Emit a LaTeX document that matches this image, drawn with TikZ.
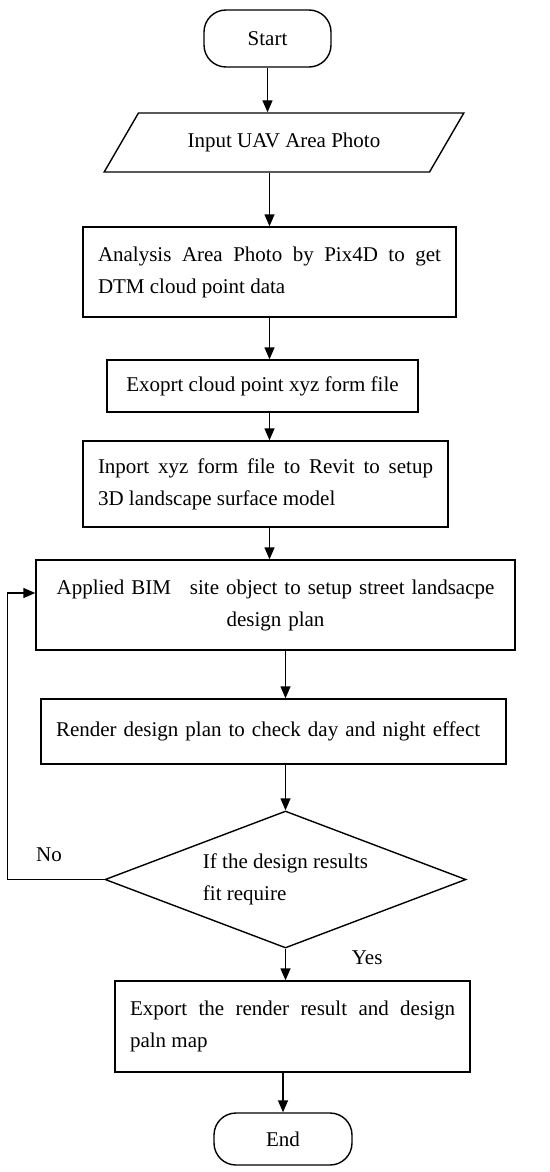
\documentclass[tikz,border=0pt]{standalone}
\usepackage{fontspec}
\setmainfont{Liberation Serif}
\usetikzlibrary{arrows.meta,shapes.geometric,positioning}

\begin{document}
\begin{tikzpicture}[x=.5pt,y=-.5pt,font=\fontsize{10.5}{16}\selectfont,
    line width=.7pt,
    term/.style={draw,rounded corners=11pt,inner sep=0pt},
    iobox/.style={draw,trapezium,trapezium left angle=40,trapezium right angle=140,
      trapezium stretches=true,minimum width=180pt,minimum height=29.5pt,inner sep=0pt},
    procbox/.style={draw,inner xsep=7.5pt,inner ysep=0pt,align=justify},
    decbox/.style={draw,diamond,aspect=2.6,inner sep=0pt,minimum width=180.5pt,
      minimum height=68.5pt,align=left},
    arr/.style={-{Triangle[length=6pt,width=5pt]}}]
  \useasboundingbox (0,0) rectangle (550,1172);
  \node[term,minimum width=63.5pt,minimum height=28.5pt] (start) at (267.5,38.5) {Start};
  \node[iobox] (input) at (284,142.5) {Input UAV Area Photo};
  \node[procbox,text width=171.5pt,minimum height=45pt] (analysis) at (269.5,272)
    {Analysis Area Photo by Pix4D to get\linebreak DTM cloud point data};
  \node[procbox,minimum width=155.5pt,minimum height=26pt,align=left] (export) at (262.5,386)
    {Exoprt cloud point xyz form file};
  \node[procbox,text width=167.5pt,minimum height=43pt] (inport) at (265.5,484)
    {Inport xyz form file to Revit to setup\linebreak 3D landscape surface model};
  \node[procbox,text width=224.5pt,minimum height=45pt,align=center] (apply) at (275.5,605)
    {Applied BIM\hspace*{9.5pt}site object to setup street landsacpe\\ design plan};
  \node[procbox,text width=217.5pt,minimum height=32.5pt,align=left] (render) at (273.5,731.5)
    {Render design plan to check day and night effect};
  \node[decbox] (check) at (285.5,879.5) {If the design results\\ fit require};
  \node[procbox,text width=162.5pt,minimum height=45.5pt] (final) at (292.5,1026.5)
    {Export the render result and design\linebreak paln map};
  \node[term,minimum width=69pt,minimum height=26pt] (end) at (283,1139) {End};

  \draw[arr] (start) -- (start |- input.north);
  \draw[arr] (analysis |- input.south) -- (analysis.north);
  \draw[arr] (analysis.south) -- (analysis.south |- export.north);
  \draw[arr] (analysis.south |- export.south) -- (analysis.south |- inport.north);
  \draw[arr] (analysis.south |- inport.south) -- (analysis.south |- apply.north);
  \draw[arr] (check |- apply.south) -- (check |- render.north);
  \draw[arr] (check |- render.south) -- (check.north);
  \draw[arr] (check.south) -- node[pos=.3,right=29.5pt] {Yes} (check.south |- final.north);
  \draw[arr] (end |- final.south) -- (end.north);
  \draw[arr] (check.west) -- node[pos=.57,above=5pt] {No} ++(-97,0)
    |- ([yshift=6pt]apply.west);
\end{tikzpicture}
\end{document}
